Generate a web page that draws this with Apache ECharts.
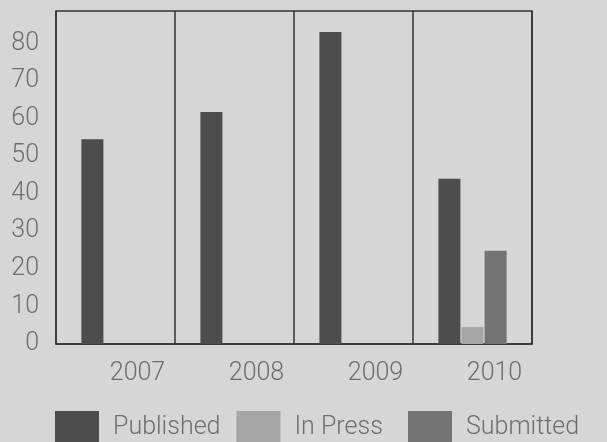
<!DOCTYPE html>
<html>
<head>
<meta charset="utf-8">
<script src="https://cdn.jsdelivr.net/npm/echarts@6/dist/echarts.min.js"></script>
<style>
html,body{margin:0;padding:0;background:#d6d6d6;}
#chart{width:607px;height:442px;}
</style>
</head>
<body>
<div id="chart"></div>
<script>
const categories = ['2007', '2008', '2009', '2010'];
const published = [54.5, 61.7, 83, 44];
const inPress = [0, 0, 0, 4.5];
const submitted = [0, 0, 0, 24.8];
const seriesNames = ['Published', 'In Press', 'Submitted'];

const FONT = 'Roboto, "Liberation Sans", sans-serif';
const legendBase = {
  top: 411, padding: 0,
  itemWidth: 44, itemHeight: 34, itemGap: 16,
  icon: 'rect',
  textStyle: { fontSize: 25, color: '#6e6e6e', fontWeight: 300, fontFamily: FONT, padding: [0, 0, 0, 9] }
};
const chart = echarts.init(document.getElementById('chart'));
chart.setOption({
  backgroundColor: '#d6d6d6',
  animation: false,
  textStyle: { fontFamily: FONT },
  legend: [
    Object.assign({}, legendBase, { left: 55, data: seriesNames.slice(0, 2) }),
    Object.assign({}, legendBase, { left: 408, data: seriesNames.slice(2) })
  ],
  grid: {
    left: 56, right: 75, top: 11, bottom: 98,
    show: true, borderColor: '#333', borderWidth: 1.5, backgroundColor: 'transparent'
  },
  xAxis: {
    type: 'category',
    data: categories,
    axisLine: { show: true, lineStyle: { color: '#333', width: 1.5 } },
    axisTick: { show: false },
    splitLine: { show: true, lineStyle: { color: '#333', width: 1.5 } },
    axisLabel: { fontSize: 25, color: '#6e6e6e', fontWeight: 300, margin: 17, padding: [0, 0, 0, 44], fontFamily: FONT }
  },
  yAxis: {
    type: 'value',
    min: 0, max: 88.6, interval: 10,
    axisLine: { show: false },
    axisTick: { show: false },
    splitLine: { show: false },
    axisLabel: { fontSize: 25, color: '#6e6e6e', fontWeight: 300, margin: 17, showMaxLabel: false, fontFamily: FONT, padding: [3, 0, 0, 0] }
  },
  series: [
    { name: seriesNames[0], type: 'bar', data: published, barWidth: 22, barGap: '5%', itemStyle: { color: '#4d4d4d' } },
    { name: seriesNames[1], type: 'bar', data: inPress, barWidth: 22, barGap: '5%', itemStyle: { color: '#a5a5a5' } },
    { name: seriesNames[2], type: 'bar', data: submitted, barWidth: 22, barGap: '5%', itemStyle: { color: '#737373' } }
  ]
});
</script>
</body>
</html>
